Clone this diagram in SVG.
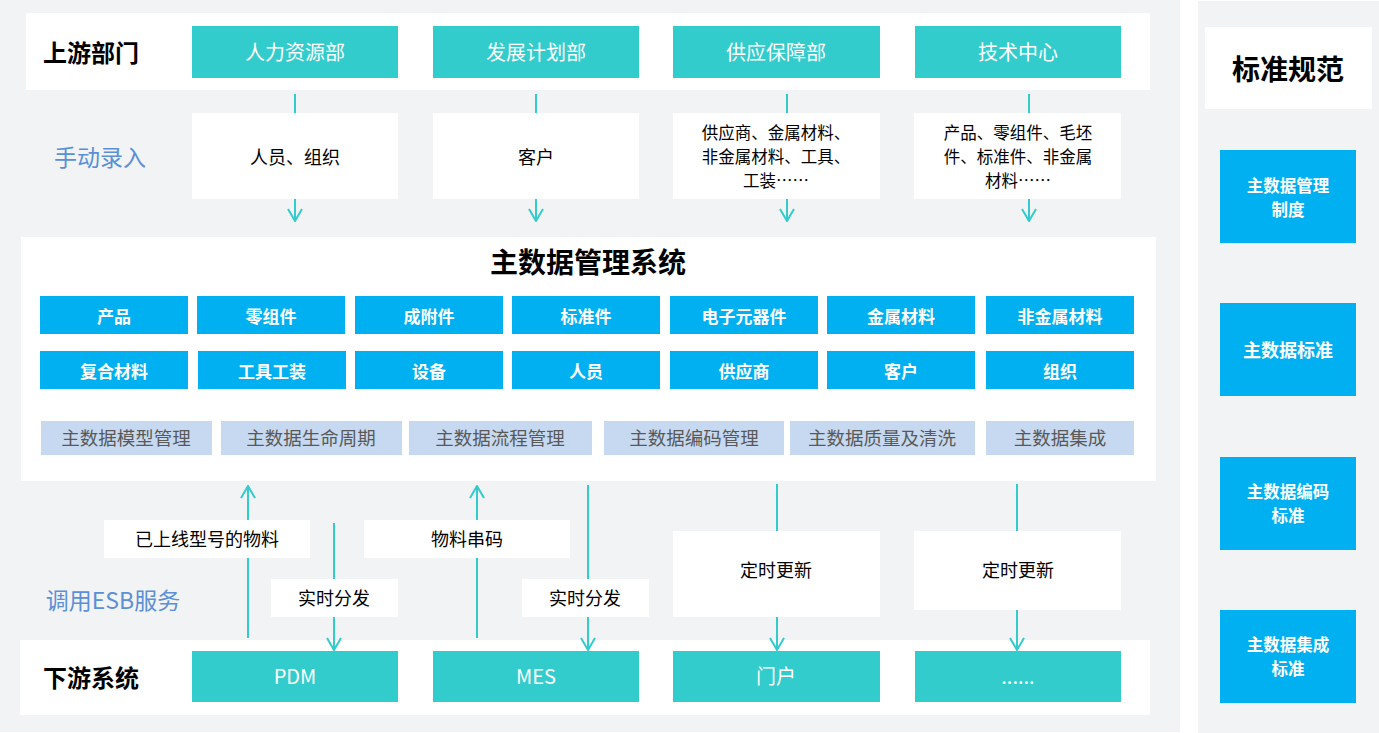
<svg xmlns="http://www.w3.org/2000/svg" width="1379" height="733" viewBox="0 0 1379 733">
<defs>
<style>
text{font-family:"Microsoft YaHei","Noto Sans CJK SC",sans-serif;text-anchor:middle;dominant-baseline:central}
.teal{fill:#33cccc}
.tw{fill:#fff;font-size:20px}
.wb{fill:#fff}
.bl{fill:#00b0f0}
.blt{fill:#fff;font-size:17px;font-weight:bold}
.blr{fill:#fff;font-size:18px;font-weight:bold}
.blr2{fill:#fff;font-size:16.5px;font-weight:bold}
.gb{fill:#c6d9f0}
.gt{fill:#595959;font-size:18.5px}
.bt{fill:#000;font-size:18px}
.bt2{fill:#000;font-size:16.5px}
.hd{fill:#000;font-size:24px;font-weight:bold}
.side{fill:#5b8fd6;font-size:23px}
.ln{stroke:#33cccc;stroke-width:2;fill:none}
</style>
<marker id="ah" viewBox="0 0 14 16" refX="13" refY="8" markerWidth="14" markerHeight="16" markerUnits="userSpaceOnUse" orient="auto">
<path d="M1,1 L13,8 L1,15" fill="none" stroke="#33cccc" stroke-width="2"/>
</marker>
</defs>
<rect width="1379" height="733" fill="#ffffff"/>
<rect x="0" y="0" width="1180" height="732" fill="#f2f3f5"/>
<rect x="1198" y="1" width="181" height="732" fill="#f2f3f5"/>

<g id="upstream-band">
<rect x="26" y="13" width="1124" height="77" class="wb"/>
<text x="91" y="51" class="hd">上游部门</text>
</g>
<g id="u1"><rect x="192" y="26" width="206" height="52" class="teal"/><text x="295" y="51" class="tw">人力资源部</text></g>
<g id="u2"><rect x="433" y="26" width="206" height="52" class="teal"/><text x="536" y="51" class="tw">发展计划部</text></g>
<g id="u3"><rect x="673" y="26" width="207" height="52" class="teal"/><text x="776" y="51" class="tw">供应保障部</text></g>
<g id="u4"><rect x="915" y="26" width="206" height="52" class="teal"/><text x="1018" y="51" class="tw">技术中心</text></g>

<text x="100" y="156" class="side">手动录入</text>

<g id="mdm">
<rect x="21" y="237" width="1135" height="244" class="wb"/>
<text x="588" y="261" style="font-size:28px;font-weight:bold;fill:#000">主数据管理系统</text>
</g>
<g id="downstream-band">
<rect x="20" y="640" width="1130" height="75" class="wb"/>
<text x="91" y="676" class="hd">下游系统</text>
</g>

<g id="connectors">
<line x1="295" y1="94" x2="295" y2="113" class="ln"/>
<line x1="536" y1="94" x2="536" y2="113" class="ln"/>
<line x1="787" y1="94" x2="787" y2="113" class="ln"/>
<line x1="1029" y1="94" x2="1029" y2="113" class="ln"/>
<line x1="295" y1="199" x2="295" y2="221" class="ln" marker-end="url(#ah)"/>
<line x1="536" y1="199" x2="536" y2="221" class="ln" marker-end="url(#ah)"/>
<line x1="787" y1="199" x2="787" y2="221" class="ln" marker-end="url(#ah)"/>
<line x1="1029" y1="199" x2="1029" y2="221" class="ln" marker-end="url(#ah)"/>
<line x1="248" y1="638" x2="248" y2="486" class="ln" marker-end="url(#ah)"/>
<line x1="334" y1="523" x2="334" y2="650" class="ln" marker-end="url(#ah)"/>
<line x1="477" y1="638" x2="477" y2="486" class="ln" marker-end="url(#ah)"/>
<line x1="588" y1="485" x2="588" y2="650" class="ln" marker-end="url(#ah)"/>
<line x1="777" y1="484" x2="777" y2="650" class="ln" marker-end="url(#ah)"/>
<line x1="1017" y1="484" x2="1017" y2="650" class="ln" marker-end="url(#ah)"/>
</g>

<g id="m1"><rect x="192" y="113" width="206" height="86" class="wb"/><text x="295" y="156" class="bt">人员、组织</text></g>
<g id="m2"><rect x="433" y="113" width="206" height="86" class="wb"/><text x="536" y="156" class="bt">客户</text></g>
<g id="m3"><rect x="673" y="113" width="207" height="86" class="wb"/>
<text x="776" y="132" class="bt2">供应商、金属材料、</text><text x="776" y="156" class="bt2">非金属材料、工具、</text><text x="776" y="180" class="bt2">工装……</text></g>
<g id="m4"><rect x="914" y="113" width="207" height="86" class="wb"/>
<text x="1018" y="132" class="bt2">产品、零组件、毛坯</text><text x="1018" y="156" class="bt2">件、标准件、非金属</text><text x="1018" y="180" class="bt2">材料……</text></g>

<g id="cats">
<rect x="40" y="296" width="148" height="38" class="bl"/><text x="114" y="315" class="blt">产品</text>
<rect x="197" y="296" width="148" height="38" class="bl"/><text x="271" y="315" class="blt">零组件</text>
<rect x="355" y="296" width="148" height="38" class="bl"/><text x="429" y="315" class="blt">成附件</text>
<rect x="512" y="296" width="148" height="38" class="bl"/><text x="586" y="315" class="blt">标准件</text>
<rect x="670" y="296" width="148" height="38" class="bl"/><text x="744" y="315" class="blt">电子元器件</text>
<rect x="827" y="296" width="148" height="38" class="bl"/><text x="901" y="315" class="blt">金属材料</text>
<rect x="986" y="296" width="148" height="38" class="bl"/><text x="1060" y="315" class="blt">非金属材料</text>
<rect x="40" y="351" width="148" height="38" class="bl"/><text x="114" y="370" class="blt">复合材料</text>
<rect x="198" y="351" width="148" height="38" class="bl"/><text x="272" y="370" class="blt">工具工装</text>
<rect x="355" y="351" width="148" height="38" class="bl"/><text x="429" y="370" class="blt">设备</text>
<rect x="512" y="351" width="148" height="38" class="bl"/><text x="586" y="370" class="blt">人员</text>
<rect x="670" y="351" width="148" height="38" class="bl"/><text x="744" y="370" class="blt">供应商</text>
<rect x="827" y="351" width="148" height="38" class="bl"/><text x="901" y="370" class="blt">客户</text>
<rect x="986" y="351" width="148" height="38" class="bl"/><text x="1060" y="370" class="blt">组织</text>
</g>
<g id="funcs">
<rect x="41" y="421" width="171" height="34" class="gb"/><text x="126" y="437" class="gt">主数据模型管理</text>
<rect x="221" y="421" width="181" height="34" class="gb"/><text x="311" y="437" class="gt">主数据生命周期</text>
<rect x="409" y="421" width="183" height="34" class="gb"/><text x="500" y="437" class="gt">主数据流程管理</text>
<rect x="604" y="421" width="180" height="34" class="gb"/><text x="694" y="437" class="gt">主数据编码管理</text>
<rect x="790" y="421" width="185" height="34" class="gb"/><text x="882" y="437" class="gt">主数据质量及清洗</text>
<rect x="986" y="421" width="148" height="34" class="gb"/><text x="1060" y="437" class="gt">主数据集成</text>
</g>

<text x="113" y="599" class="side">调用ESB服务</text>
<g id="l1"><rect x="104" y="520" width="206" height="38" class="wb"/><text x="207" y="538" class="bt">已上线型号的物料</text></g>
<g id="l2"><rect x="271" y="579" width="127" height="38" class="wb"/><text x="334" y="597" class="bt">实时分发</text></g>
<g id="l3"><rect x="364" y="520" width="206" height="38" class="wb"/><text x="467" y="538" class="bt">物料串码</text></g>
<g id="l4"><rect x="522" y="579" width="127" height="38" class="wb"/><text x="585" y="597" class="bt">实时分发</text></g>
<g id="l5"><rect x="673" y="531" width="207" height="86" class="wb"/><text x="776" y="569" class="bt">定时更新</text></g>
<g id="l6"><rect x="914" y="531" width="207" height="79" class="wb"/><text x="1018" y="569" class="bt">定时更新</text></g>

<g id="d1"><rect x="192" y="651" width="206" height="51" class="teal"/><text x="295" y="675" class="tw">PDM</text></g>
<g id="d2"><rect x="433" y="651" width="206" height="51" class="teal"/><text x="536" y="675" class="tw">MES</text></g>
<g id="d3"><rect x="673" y="651" width="207" height="51" class="teal"/><text x="776" y="675" class="tw">门户</text></g>
<g id="d4"><rect x="915" y="651" width="206" height="51" class="teal"/><text x="1018" y="675" class="tw">......</text></g>

<g id="std-title"><rect x="1205" y="27" width="167" height="82" class="wb"/><text x="1288" y="68" style="font-size:28px;font-weight:bold;fill:#000">标准规范</text></g>
<g id="s1"><rect x="1220" y="150" width="136" height="93" class="bl"/><text x="1288" y="185" class="blr2">主数据管理</text><text x="1288" y="209" class="blr2">制度</text></g>
<g id="s2"><rect x="1220" y="303" width="136" height="93" class="bl"/><text x="1288" y="349" class="blr">主数据标准</text></g>
<g id="s3"><rect x="1220" y="457" width="136" height="93" class="bl"/><text x="1288" y="491" class="blr2">主数据编码</text><text x="1288" y="515" class="blr2">标准</text></g>
<g id="s4"><rect x="1220" y="610" width="136" height="93" class="bl"/><text x="1288" y="644" class="blr2">主数据集成</text><text x="1288" y="668" class="blr2">标准</text></g>
</svg>
